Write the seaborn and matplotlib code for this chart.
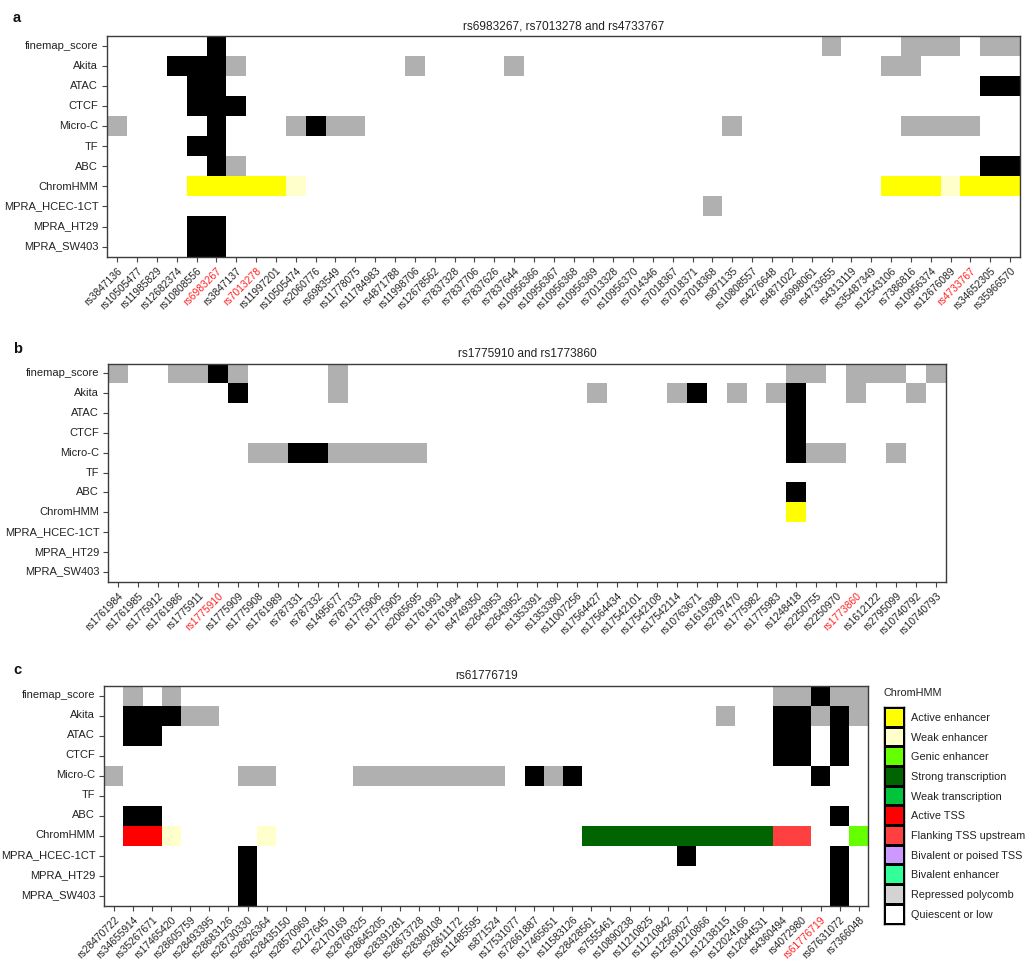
import numpy as np
import pandas as pd
import matplotlib
matplotlib.use("Agg")
import matplotlib.pyplot as plt
import seaborn as sns
from matplotlib.colors import ListedColormap

plt.rcParams['font.family'] = ['Liberation Sans', 'DejaVu Sans']

# ---------------- shared definitions ----------------
features = ['finemap_score', 'Akita', 'ATAC', 'CTCF', 'Micro-C', 'TF', 'ABC',
            'ChromHMM', 'MPRA_HCEC-1CT', 'MPRA_HT29', 'MPRA_SW403']

# ChromHMM state index: 0 = Quiescent or low
chromhmm_states = ['Quiescent or low', 'Active enhancer', 'Weak enhancer', 'Genic enhancer',
                   'Strong transcription', 'Weak transcription', 'Active TSS',
                   'Flanking TSS upstream', 'Bivalent or poised TSS', 'Bivalent enhancer',
                   'Repressed polycomb']
state_colors = {
    'Active enhancer': '#FFFF00',
    'Weak enhancer': '#FFFFCC',
    'Genic enhancer': '#66FF00',
    'Strong transcription': '#006400',
    'Weak transcription': '#00C43C',
    'Active TSS': '#FF0000',
    'Flanking TSS upstream': '#FF4040',
    'Bivalent or poised TSS': '#CC99FF',
    'Bivalent enhancer': '#33FF99',
    'Repressed polycomb': '#D3D3D3',
    'Quiescent or low': '#FFFFFF',
}
legend_order = ['Active enhancer', 'Weak enhancer', 'Genic enhancer', 'Strong transcription',
                'Weak transcription', 'Active TSS', 'Flanking TSS upstream',
                'Bivalent or poised TSS', 'Bivalent enhancer', 'Repressed polycomb',
                'Quiescent or low']

# track levels: 0 = none, 1 = moderate (grey), 2 = strong (black)
level_colors = ['#FFFFFF', '#B0B0B0', '#000000']

# ---------------- panel a ----------------
a_snps = ['rs3847136', 'rs10505477', 'rs11985829', 'rs12682374', 'rs10808556', 'rs6983267',
          'rs3847137', 'rs7013278', 'rs11997201', 'rs10505474', 'rs2060776', 'rs6983549',
          'rs11778075', 'rs11784983', 'rs4871788', 'rs11998706', 'rs12678562', 'rs7837328',
          'rs7837706', 'rs7837626', 'rs7837644', 'rs10956366', 'rs10956367', 'rs10956368',
          'rs10956369', 'rs7013328', 'rs10956370', 'rs7014346', 'rs7018367', 'rs7018371',
          'rs7018368', 'rs871135', 'rs10808557', 'rs4276648', 'rs4871022', 'rs6998061',
          'rs4733655', 'rs4313119', 'rs35487349', 'rs12543106', 'rs7386816', 'rs10956374',
          'rs12676089', 'rs4733767', 'rs34652305', 'rs35966570']
a_lead = ['rs6983267', 'rs7013278', 'rs4733767']
a_finemap = [0,0,0,0,0,2,0,0,0,0, 0,0,0,0,0,0,0,0,0,0, 0,0,0,0,0,0,0,0,0,0, 0,0,0,0,0,0,1,0,0,0, 1,1,1,0,1,1]
a_akita   = [0,0,0,2,2,2,1,0,0,0, 0,0,0,0,0,1,0,0,0,0, 1,0,0,0,0,0,0,0,0,0, 0,0,0,0,0,0,0,0,0,1, 1,0,0,0,0,0]
a_atac    = [0,0,0,0,2,2,0,0,0,0, 0,0,0,0,0,0,0,0,0,0, 0,0,0,0,0,0,0,0,0,0, 0,0,0,0,0,0,0,0,0,0, 0,0,0,0,2,2]
a_ctcf    = [0,0,0,0,2,2,2,0,0,0, 0,0,0,0,0,0,0,0,0,0, 0,0,0,0,0,0,0,0,0,0, 0,0,0,0,0,0,0,0,0,0, 0,0,0,0,0,0]
a_microc  = [1,0,0,0,0,2,0,0,0,1, 2,1,1,0,0,0,0,0,0,0, 0,0,0,0,0,0,0,0,0,0, 0,1,0,0,0,0,0,0,0,0, 1,1,1,1,0,0]
a_tf      = [0,0,0,0,2,2,0,0,0,0, 0,0,0,0,0,0,0,0,0,0, 0,0,0,0,0,0,0,0,0,0, 0,0,0,0,0,0,0,0,0,0, 0,0,0,0,0,0]
a_abc     = [0,0,0,0,0,2,1,0,0,0, 0,0,0,0,0,0,0,0,0,0, 0,0,0,0,0,0,0,0,0,0, 0,0,0,0,0,0,0,0,0,0, 0,0,0,0,2,2]
a_chromhmm= [0,0,0,0,1,1,1,1,1,2, 0,0,0,0,0,0,0,0,0,0, 0,0,0,0,0,0,0,0,0,0, 0,0,0,0,0,0,0,0,0,1, 1,1,2,1,1,1]
a_hcec    = [0,0,0,0,0,0,0,0,0,0, 0,0,0,0,0,0,0,0,0,0, 0,0,0,0,0,0,0,0,0,0, 1,0,0,0,0,0,0,0,0,0, 0,0,0,0,0,0]
a_ht29    = [0,0,0,0,2,2,0,0,0,0, 0,0,0,0,0,0,0,0,0,0, 0,0,0,0,0,0,0,0,0,0, 0,0,0,0,0,0,0,0,0,0, 0,0,0,0,0,0]
a_sw403   = [0,0,0,0,2,2,0,0,0,0, 0,0,0,0,0,0,0,0,0,0, 0,0,0,0,0,0,0,0,0,0, 0,0,0,0,0,0,0,0,0,0, 0,0,0,0,0,0]

# ---------------- panel b ----------------
b_snps = ['rs1761984', 'rs1761985', 'rs1775912', 'rs1761986', 'rs1775911', 'rs1775910',
          'rs1775909', 'rs1775908', 'rs1761989', 'rs787331', 'rs787332', 'rs1495677',
          'rs787333', 'rs1775906', 'rs1775905', 'rs2065695', 'rs1761993', 'rs1761994',
          'rs4749350', 'rs2643953', 'rs2643952', 'rs1353391', 'rs1353390', 'rs11007256',
          'rs17564427', 'rs17564434', 'rs17542101', 'rs17542108', 'rs17542114', 'rs10763671',
          'rs1619388', 'rs2797470', 'rs1775982', 'rs1775983', 'rs1248418', 'rs2250755',
          'rs2250970', 'rs1773860', 'rs1612122', 'rs2795099', 'rs10740792', 'rs10740793']
b_lead = ['rs1775910', 'rs1773860']
b_finemap = [1,0,0,1,1,2,1,0,0,0, 0,1,0,0,0,0,0,0,0,0, 0,0,0,0,0,0,0,0,0,0, 0,0,0,0,1,1,0,1,1,1, 0,1]
b_akita   = [0,0,0,0,0,0,2,0,0,0, 0,1,0,0,0,0,0,0,0,0, 0,0,0,0,1,0,0,0,1,2, 0,1,0,1,2,0,0,1,0,0, 1,0]
b_atac    = [0,0,0,0,0,0,0,0,0,0, 0,0,0,0,0,0,0,0,0,0, 0,0,0,0,0,0,0,0,0,0, 0,0,0,0,2,0,0,0,0,0, 0,0]
b_ctcf    = [0,0,0,0,0,0,0,0,0,0, 0,0,0,0,0,0,0,0,0,0, 0,0,0,0,0,0,0,0,0,0, 0,0,0,0,2,0,0,0,0,0, 0,0]
b_microc  = [0,0,0,0,0,0,0,1,1,2, 2,1,1,1,1,1,0,0,0,0, 0,0,0,0,0,0,0,0,0,0, 0,0,0,0,2,1,1,0,0,1, 0,0]
b_tf      = [0,0,0,0,0,0,0,0,0,0, 0,0,0,0,0,0,0,0,0,0, 0,0,0,0,0,0,0,0,0,0, 0,0,0,0,0,0,0,0,0,0, 0,0]
b_abc     = [0,0,0,0,0,0,0,0,0,0, 0,0,0,0,0,0,0,0,0,0, 0,0,0,0,0,0,0,0,0,0, 0,0,0,0,2,0,0,0,0,0, 0,0]
b_chromhmm= [0,0,0,0,0,0,0,0,0,0, 0,0,0,0,0,0,0,0,0,0, 0,0,0,0,0,0,0,0,0,0, 0,0,0,0,1,0,0,0,0,0, 0,0]
b_hcec    = [0,0,0,0,0,0,0,0,0,0, 0,0,0,0,0,0,0,0,0,0, 0,0,0,0,0,0,0,0,0,0, 0,0,0,0,0,0,0,0,0,0, 0,0]
b_ht29    = [0,0,0,0,0,0,0,0,0,0, 0,0,0,0,0,0,0,0,0,0, 0,0,0,0,0,0,0,0,0,0, 0,0,0,0,0,0,0,0,0,0, 0,0]
b_sw403   = [0,0,0,0,0,0,0,0,0,0, 0,0,0,0,0,0,0,0,0,0, 0,0,0,0,0,0,0,0,0,0, 0,0,0,0,0,0,0,0,0,0, 0,0]

# ---------------- panel c ----------------
c_snps = ['rs28470722', 'rs34655914', 'rs35267671', 'rs17465420', 'rs28605759', 'rs28493395',
          'rs28683126', 'rs28730330', 'rs28626364', 'rs28435150', 'rs28570969', 'rs2127645',
          'rs2170169', 'rs28760325', 'rs28645205', 'rs28391281', 'rs28673728', 'rs28380108',
          'rs28611172', 'rs11485595', 'rs871524', 'rs17531077', 'rs72661887', 'rs17465651',
          'rs11583126', 'rs28428561', 'rs7555461', 'rs10890238', 'rs11210825', 'rs11210842',
          'rs12569027', 'rs11210866', 'rs12138115', 'rs12024166', 'rs12044531', 'rs4360494',
          'rs4072980', 'rs61776719', 'rs67631072', 'rs7366048']
c_lead = ['rs61776719']
c_finemap = [0,1,0,1,0,0,0,0,0,0, 0,0,0,0,0,0,0,0,0,0, 0,0,0,0,0,0,0,0,0,0, 0,0,0,0,0,1,1,2,1,1]
c_akita   = [0,2,2,2,1,1,0,0,0,0, 0,0,0,0,0,0,0,0,0,0, 0,0,0,0,0,0,0,0,0,0, 0,0,1,0,0,2,2,1,2,1]
c_atac    = [0,2,2,0,0,0,0,0,0,0, 0,0,0,0,0,0,0,0,0,0, 0,0,0,0,0,0,0,0,0,0, 0,0,0,0,0,2,2,0,2,0]
c_ctcf    = [0,0,0,0,0,0,0,0,0,0, 0,0,0,0,0,0,0,0,0,0, 0,0,0,0,0,0,0,0,0,0, 0,0,0,0,0,2,2,0,2,0]
c_microc  = [1,0,0,0,0,0,0,1,1,0, 0,0,0,1,1,1,1,1,1,1, 1,0,2,1,2,0,0,0,0,0, 0,0,0,0,0,0,0,2,0,0]
c_tf      = [0,0,0,0,0,0,0,0,0,0, 0,0,0,0,0,0,0,0,0,0, 0,0,0,0,0,0,0,0,0,0, 0,0,0,0,0,0,0,0,0,0]
c_abc     = [0,2,2,0,0,0,0,0,0,0, 0,0,0,0,0,0,0,0,0,0, 0,0,0,0,0,0,0,0,0,0, 0,0,0,0,0,0,0,0,2,0]
c_chromhmm= [0,6,6,2,0,0,0,0,2,0, 0,0,0,0,0,0,0,0,0,0, 0,0,0,0,0,4,4,4,4,4, 4,4,4,4,4,7,7,0,0,3]
c_hcec    = [0,0,0,0,0,0,0,2,0,0, 0,0,0,0,0,0,0,0,0,0, 0,0,0,0,0,0,0,0,0,0, 2,0,0,0,0,0,0,0,2,0]
c_ht29    = [0,0,0,0,0,0,0,2,0,0, 0,0,0,0,0,0,0,0,0,0, 0,0,0,0,0,0,0,0,0,0, 0,0,0,0,0,0,0,0,2,0]
c_sw403   = [0,0,0,0,0,0,0,2,0,0, 0,0,0,0,0,0,0,0,0,0, 0,0,0,0,0,0,0,0,0,0, 0,0,0,0,0,0,0,0,2,0]

# ---------------- build colour coding ----------------
all_colors = level_colors + [state_colors[s] for s in chromhmm_states[1:]]
cmap = ListedColormap(all_colors)
ncode = len(all_colors)


def build_frame(rows, chrom, snps):
    data = []
    for f in features:
        if f == 'ChromHMM':
            data.append([0 if s == 0 else 2 + s for s in chrom])
        else:
            data.append(rows[f])
    return pd.DataFrame(data, index=features, columns=snps)


W, H = 1030, 974
fig = plt.figure(figsize=(W / 100, H / 100), dpi=100)


def px_rect(x0, y0, x1, y1):
    return [x0 / W, 1 - y1 / H, (x1 - x0) / W, (y1 - y0) / H]


def draw_panel(rect, df, lead, title):
    ax = fig.add_axes(rect)
    sns.heatmap(df, ax=ax, cmap=cmap, vmin=-0.5, vmax=ncode - 0.5, cbar=False,
                linewidths=0, xticklabels=list(df.columns), yticklabels=features)
    for sp in ax.spines.values():
        sp.set_visible(True)
        sp.set_color('#3c3c3c')
        sp.set_linewidth(1.0)
    ax.tick_params(axis='both', length=3.5, width=0.8, color='#444444', pad=3)
    ax.set_yticklabels(features, rotation=0, fontsize=8, color='#222222')
    ax.set_xticklabels(list(df.columns), rotation=45, ha='right', va='top',
                       rotation_mode='anchor', fontsize=7.4, color='#222222')
    for t in ax.get_xticklabels():
        if t.get_text() in lead:
            t.set_color('#FF2020')
    ax.set_xlabel('')
    ax.set_ylabel('')
    ax.set_title(title, fontsize=8.6, pad=5, color='#222222')
    return ax


dfa = build_frame({'finemap_score': a_finemap, 'Akita': a_akita, 'ATAC': a_atac, 'CTCF': a_ctcf,
                   'Micro-C': a_microc, 'TF': a_tf, 'ABC': a_abc, 'MPRA_HCEC-1CT': a_hcec,
                   'MPRA_HT29': a_ht29, 'MPRA_SW403': a_sw403}, a_chromhmm, a_snps)
dfb = build_frame({'finemap_score': b_finemap, 'Akita': b_akita, 'ATAC': b_atac, 'CTCF': b_ctcf,
                   'Micro-C': b_microc, 'TF': b_tf, 'ABC': b_abc, 'MPRA_HCEC-1CT': b_hcec,
                   'MPRA_HT29': b_ht29, 'MPRA_SW403': b_sw403}, b_chromhmm, b_snps)
dfc = build_frame({'finemap_score': c_finemap, 'Akita': c_akita, 'ATAC': c_atac, 'CTCF': c_ctcf,
                   'Micro-C': c_microc, 'TF': c_tf, 'ABC': c_abc, 'MPRA_HCEC-1CT': c_hcec,
                   'MPRA_HT29': c_ht29, 'MPRA_SW403': c_sw403}, c_chromhmm, c_snps)

draw_panel(px_rect(107.3, 36.5, 1020, 256.5), dfa, a_lead, 'rs6983267, rs7013278 and rs4733767')
draw_panel(px_rect(108.3, 363.5, 946, 581.5), dfb, b_lead, 'rs1775910 and rs1773860')
draw_panel(px_rect(104.3, 685.5, 868.3, 905.5), dfc, c_lead, 'rs61776719')

for letter, ypix in [('a', 18), ('b', 349), ('c', 670)]:
    fig.text(13 / W, 1 - ypix / H, letter, fontsize=10.5, fontweight='bold',
             va='center', ha='left', color='#111111')

# ---------------- ChromHMM legend ----------------
lax = fig.add_axes(px_rect(884, 707, 904, 923.5))
leg_df = pd.DataFrame(np.arange(len(legend_order)).reshape(-1, 1), index=legend_order)
sns.heatmap(leg_df, ax=lax, cmap=ListedColormap([state_colors[s] for s in legend_order]),
            vmin=-0.5, vmax=len(legend_order) - 0.5, cbar=False,
            linewidths=0.8, linecolor='black', xticklabels=False, yticklabels=legend_order)
for sp in lax.spines.values():
    sp.set_visible(True)
    sp.set_color('black')
    sp.set_linewidth(1.0)
lax.yaxis.tick_right()
lax.set_yticklabels(legend_order, rotation=0, fontsize=7.8, color='#222222')
lax.tick_params(axis='y', length=0, pad=5)
lax.set_ylabel('')
lax.set_title('ChromHMM', loc='left', fontsize=7.8, pad=8, color='#222222')

fig.savefig('out.png', dpi=100, facecolor='white')
